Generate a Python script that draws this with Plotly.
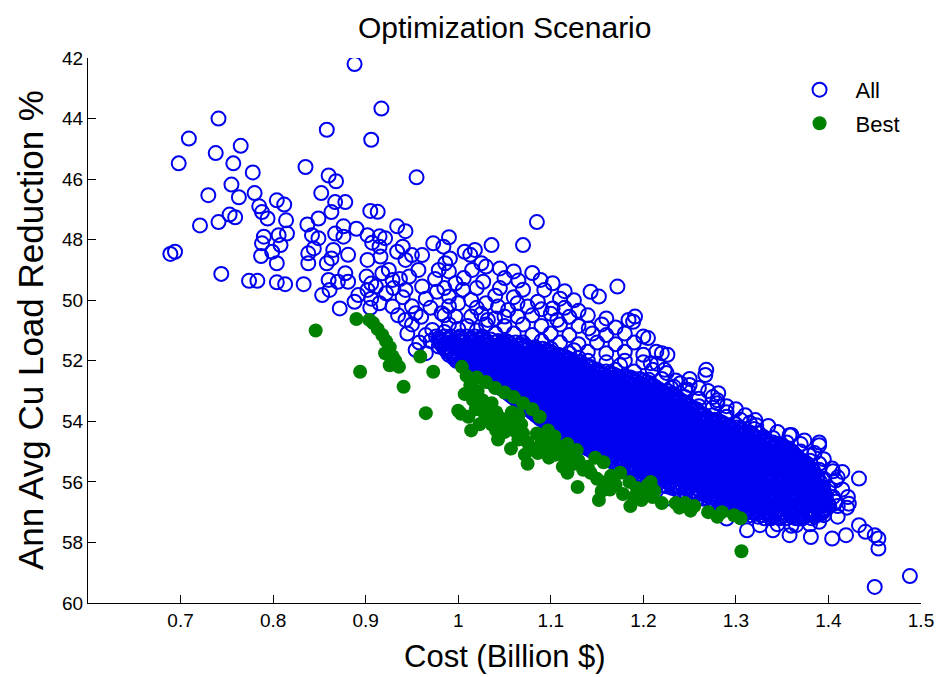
import plotly.graph_objects as go

# ---- "All" scenarios: individually scattered solutions (cost in billion $, reduction in %)
all_scattered = [
    (0.888, 42.2), (0.917, 43.67), (0.741, 44.0), (0.709, 44.66), (0.858, 44.37), (0.906, 44.7),
    (0.765, 44.9), (0.738, 45.14), (0.698, 45.48), (0.757, 45.48), (0.778, 45.78), (0.835, 45.6),
    (0.860, 45.88), (0.868, 46.07), (0.955, 45.94), (0.755, 46.18), (0.852, 46.46), (0.730, 46.53),
    (0.763, 46.6), (0.780, 46.46), (0.804, 46.7), (0.812, 46.84), (0.867, 46.76), (0.878, 46.76),
    (0.785, 46.9), (0.788, 47.09), (0.794, 47.3), (0.863, 47.09), (0.905, 47.05), (0.913, 47.08),
    (0.753, 47.17), (0.759, 47.26), (0.741, 47.42), (0.721, 47.53), (0.814, 47.36), (0.837, 47.5),
    (0.849, 47.3), (0.876, 47.56), (0.890, 47.64), (1.085, 47.42), (0.934, 47.56), (0.943, 47.72),
    (0.790, 47.9), (0.806, 47.85), (0.815, 47.8), (0.842, 47.85), (0.849, 47.95), (0.867, 47.8),
    (0.876, 47.9), (0.902, 47.85), (0.915, 47.89), (0.921, 47.95), (0.990, 47.92),
    (0.694, 48.4), (0.689, 48.47), (0.744, 49.13), (0.774, 49.36), (0.783, 49.36), (0.804, 49.41),
    (0.813, 49.47), (0.833, 49.47), (0.787, 48.54), (0.804, 48.78), (0.799, 48.4), (0.808, 48.18),
    (0.788, 48.12), (0.838, 48.45), (0.838, 48.78), (0.844, 48.29), (0.858, 48.78), (0.863, 48.62),
    (0.865, 48.34), (0.881, 48.5), (0.853, 49.83), (0.861, 49.66), (0.872, 50.27), (0.860, 49.33),
    (0.870, 49.39), (0.881, 49.39), (0.878, 49.11), (0.888, 50.05), (0.892, 49.83), (0.902, 49.66),
    (0.901, 49.22), (0.902, 48.67), (0.906, 49.45), (0.906, 49.95), (0.907, 48.1),
    (1.070, 48.18), (1.089, 49.33), (1.102, 49.44), (1.093, 49.66), (1.143, 49.72), (1.152, 49.88),
    (1.172, 49.55), (1.191, 50.54), (1.189, 50.71), (1.184, 50.65), (1.141, 50.93), (1.050, 49.27),
    (1.027, 49.39), (1.030, 48.89), (1.025, 48.78), (1.036, 48.18), (1.006, 49.27), (0.997, 49.44),
    (1.013, 48.5), (1.007, 48.4), (1.018, 48.34), (0.991, 48.62), (0.986, 48.78), (0.979, 49.0),
    (0.973, 48.12), (0.984, 48.23), (0.961, 48.51), (0.950, 48.51), (0.943, 48.67), (0.940, 48.23),
    (0.934, 48.4), (0.916, 48.56), (0.915, 48.23), (0.957, 49.0), (0.947, 49.22), (0.961, 49.55),
    (0.943, 49.66), (0.929, 49.33), (0.918, 49.11), (0.911, 49.55), (0.922, 49.77),
    (0.977, 49.72), (0.990, 49.88), (1.000, 50.1), (1.014, 49.99), (1.030, 50.1), (1.043, 50.21),
    (1.054, 50.32), (1.064, 50.1), (1.075, 50.21), (1.086, 50.05), (1.102, 50.27), (1.107, 50.65),
    (1.064, 50.54), (1.050, 50.54), (1.032, 50.65), (1.014, 50.54), (0.997, 50.54), (0.982, 50.43),
    (0.972, 50.98), (0.954, 50.43), (0.943, 50.65), (0.929, 50.21), (0.915, 50.1), (0.954, 51.64),
    (0.979, 51.53),
    (0.925, 49.0), (0.99, 49.05), (1.015, 49.0), (1.045, 48.95), (1.06, 49.05),
    (0.937, 49.3), (0.975, 49.3), (1.065, 49.35), (1.08, 49.1),
    (0.93, 49.6), (0.985, 49.6), (1.005, 49.65), (1.02, 49.6), (1.045, 49.6), (1.07, 49.65), (1.115, 49.7),
    (0.94, 49.9), (0.965, 49.95), (1.04, 49.85), (1.06, 49.9), (1.11, 49.95), (1.125, 50.0),
    (0.905, 50.25), (0.95, 50.2), (0.97, 50.25), (0.99, 50.2), (1.02, 50.25), (1.09, 50.3), (1.115, 50.25),
    (1.13, 50.35), (0.935, 50.5), (0.96, 50.55), (0.985, 50.5), (1.025, 50.45), (1.04, 50.6), (1.08, 50.5),
    (1.1, 50.45), (1.12, 50.55), (1.14, 50.5), (1.16, 50.6),
    (0.95, 50.8), (0.99, 50.8), (1.01, 50.85), (1.03, 50.8), (1.05, 50.85), (1.07, 50.8), (1.09, 50.85),
    (1.11, 50.8), (1.13, 50.85), (1.155, 50.8), (1.17, 50.9), (1.0, 50.95), (1.02, 51.0),
    (0.945, 51.1), (0.965, 51.15), (0.985, 51.05), (1.04, 51.1), (1.06, 51.1), (1.08, 51.15), (1.1, 51.1),
    (1.12, 51.15), (1.145, 51.1), (1.16, 51.15), (1.18, 51.1), (1.2, 51.2),
    (0.958, 51.4), (0.97, 51.35), (1.07, 51.4), (1.09, 51.35), (1.11, 51.4), (1.13, 51.45), (1.15, 51.4),
    (1.17, 51.45), (1.19, 51.4), (1.10, 51.6), (1.125, 51.65),
    (0.965, 51.75), (1.12, 51.75), (1.14, 51.7), (1.16, 51.75), (1.18, 51.7), (1.2, 51.8), (1.22, 51.75),
    (1.13, 51.9), (1.14, 52.0), (1.16, 52.05), (1.18, 52.0), (1.2, 52.05), (1.215, 52.1),
    (1.17, 52.3), (1.175, 52.15), (1.19, 52.35), (1.21, 52.3), (1.225, 52.4),
    (1.22, 52.6), (1.235, 52.65), (1.25, 52.6), (1.23, 52.9), (1.245, 52.95), (1.26, 52.9), (1.25, 52.8),
    (1.245, 53.2), (1.26, 53.25), (1.275, 53.2), (1.27, 53.0), (1.28, 53.3),
    (1.26, 53.5), (1.275, 53.55), (1.29, 53.5), (1.3, 53.6), (1.29, 53.7), (1.305, 53.95),
    (1.275, 53.8), (1.29, 53.85), (1.31, 53.8), (1.3, 54.1), (1.315, 54.05), (1.335, 54.15), (1.32, 54.25),
    (1.325, 54.4), (1.345, 54.35), (1.36, 54.45), (1.34, 54.55), (1.355, 54.7), (1.37, 54.75), (1.39, 54.7),
    (1.35, 54.85), (1.365, 55.2),
    (1.37, 55.0), (1.385, 55.05), (1.38, 55.3), (1.395, 55.25), (1.39, 55.6), (1.405, 55.65),
    (1.395, 55.9), (1.41, 55.85), (1.4, 56.2), (1.415, 56.25), (1.405, 56.5), (1.41, 56.8), (1.42, 56.85),
    (1.375, 57.1), (1.395, 57.1), (1.41, 57.15), (1.345, 57.4), (1.36, 57.45), (1.38, 57.4),
    (1.205, 51.25), (1.214, 51.7), (1.226, 51.8), (1.208, 52.08), (1.223, 52.3), (1.206, 52.63),
    (1.268, 52.3), (1.267, 52.47), (1.281, 53.07), (1.280, 53.4), (1.321, 53.96), (1.240, 52.74),
    (1.248, 52.96), (1.233, 52.86), (1.258, 53.62),
    (1.322, 54.13), (1.330, 54.52), (1.358, 54.46), (1.374, 54.63), (1.390, 54.79), (1.379, 55.12),
    (1.390, 55.4), (1.404, 55.56), (1.415, 55.67), (1.433, 55.89), (1.408, 55.95), (1.421, 56.5),
    (1.422, 56.72), (1.408, 56.66), (1.396, 56.44), (1.433, 57.43), (1.419, 57.76), (1.404, 57.87),
    (1.381, 57.82), (1.358, 57.76), (1.340, 57.6), (1.312, 57.6), (1.450, 57.76), (1.454, 58.2),
    (1.440, 57.65), (1.454, 57.87), (1.488, 59.11), (1.450, 59.47), (1.369, 57.21), (1.390, 57.32),
    (1.365, 57.43), (1.326, 57.43), (1.290, 57.21), (1.226, 56.55), (1.265, 56.55),
]

# ---- "All" scenarios: the crowded band, one row of costs per reduction level
all_band_rows = [
    (51.2, [0.976, 0.985, 0.992, 1.002, 1.009, 1.018, 1.026]),
    (51.25, [0.979, 0.990, 1.001, 1.014, 1.026]),
    (51.3, [0.980, 0.991, 1.004, 1.013, 1.025, 1.035]),
    (51.35, [0.982, 0.995, 1.007, 1.018, 1.031, 1.043, 1.052]),
    (51.4, [0.980, 0.990, 0.997, 1.005, 1.015, 1.022, 1.030, 1.040, 1.047, 1.054, 1.062]),
    (51.45, [0.985, 0.996, 1.010, 1.021, 1.033, 1.046, 1.057, 1.067]),
    (51.5, [0.983, 0.996, 1.006, 1.018, 1.029, 1.039, 1.051, 1.063, 1.073]),
    (51.55, [0.986, 1.000, 1.011, 1.024, 1.035, 1.048, 1.060, 1.071, 1.083]),
    (51.6, [0.985, 0.992, 1.001, 1.010, 1.016, 1.026, 1.033, 1.043, 1.050, 1.058, 1.068, 1.075, 1.082, 1.091]),
    (51.65, [0.989, 1.001, 1.014, 1.026, 1.037, 1.050, 1.062, 1.073, 1.086, 1.096]),
    (51.7, [0.988, 0.999, 1.010, 1.022, 1.032, 1.045, 1.055, 1.066, 1.078, 1.088, 1.099]),
    (51.75, [0.993, 1.004, 1.017, 1.029, 1.040, 1.053, 1.065, 1.076, 1.089, 1.101]),
    (51.8, [0.990, 1.000, 1.006, 1.016, 1.023, 1.033, 1.040, 1.048, 1.058, 1.064, 1.074, 1.081, 1.091, 1.098, 1.108]),
    (51.85, [0.996, 1.008, 1.019, 1.032, 1.044, 1.055, 1.068, 1.080, 1.091, 1.104, 1.114]),
    (51.9, [0.995, 1.007, 1.017, 1.029, 1.039, 1.050, 1.062, 1.074, 1.084, 1.096, 1.106, 1.117]),
    (51.95, [0.999, 1.011, 1.024, 1.035, 1.047, 1.060, 1.071, 1.083, 1.096, 1.107, 1.120]),
    (52.0, [0.998, 1.005, 1.015, 1.022, 1.031, 1.040, 1.047, 1.057, 1.063, 1.073, 1.080, 1.090, 1.097, 1.107,
            1.114, 1.124]),
    (52.05, [1.003, 1.014, 1.027, 1.039, 1.050, 1.063, 1.075, 1.086, 1.099, 1.111, 1.122, 1.131]),
    (52.1, [1.005, 1.017, 1.027, 1.039, 1.050, 1.060, 1.072, 1.084, 1.094, 1.106, 1.117, 1.128]),
    (52.15, [1.008, 1.021, 1.033, 1.044, 1.057, 1.069, 1.080, 1.093, 1.105, 1.116, 1.129, 1.138]),
    (52.2, [1.010, 1.019, 1.026, 1.036, 1.043, 1.051, 1.061, 1.068, 1.076, 1.086, 1.093, 1.101, 1.111, 1.118,
            1.128, 1.134, 1.142]),
    (52.25, [1.014, 1.026, 1.039, 1.050, 1.062, 1.075, 1.086, 1.098, 1.111, 1.122, 1.134, 1.145]),
    (52.3, [1.016, 1.028, 1.038, 1.050, 1.061, 1.071, 1.083, 1.095, 1.105, 1.117, 1.128, 1.138, 1.150]),
    (52.35, [1.019, 1.032, 1.043, 1.055, 1.068, 1.079, 1.091, 1.104, 1.115, 1.127, 1.140, 1.151, 1.160]),
    (52.4, [1.021, 1.028, 1.038, 1.045, 1.055, 1.062, 1.071, 1.080, 1.087, 1.097, 1.104, 1.112, 1.122, 1.129,
            1.137, 1.147, 1.154, 1.164]),
    (52.45, [1.024, 1.036, 1.049, 1.060, 1.072, 1.085, 1.096, 1.108, 1.121, 1.132, 1.144, 1.157, 1.168]),
    (52.5, [1.026, 1.038, 1.048, 1.060, 1.071, 1.081, 1.093, 1.105, 1.115, 1.127, 1.138, 1.148, 1.160, 1.171,
            1.180]),
    (52.55, [1.029, 1.041, 1.054, 1.065, 1.077, 1.090, 1.101, 1.113, 1.126, 1.137, 1.149, 1.162, 1.173, 1.186]),
    (52.6, [1.031, 1.040, 1.047, 1.057, 1.064, 1.072, 1.082, 1.089, 1.097, 1.107, 1.114, 1.124, 1.131, 1.140,
            1.148, 1.155, 1.165, 1.172, 1.182, 1.189, 1.196]),
    (52.65, [1.034, 1.047, 1.058, 1.070, 1.083, 1.094, 1.106, 1.119, 1.130, 1.142, 1.155, 1.166, 1.178, 1.191,
             1.200]),
    (52.7, [1.036, 1.048, 1.058, 1.070, 1.081, 1.091, 1.103, 1.115, 1.125, 1.137, 1.148, 1.158, 1.170, 1.182,
            1.192, 1.203]),
    (52.75, [1.039, 1.051, 1.064, 1.075, 1.087, 1.100, 1.111, 1.123, 1.136, 1.147, 1.159, 1.172, 1.183, 1.195,
             1.206]),
    (52.8, [1.041, 1.049, 1.059, 1.066, 1.074, 1.084, 1.091, 1.101, 1.108, 1.116, 1.126, 1.133, 1.142, 1.150,
            1.157, 1.167, 1.174, 1.184, 1.191, 1.200, 1.209]),
    (52.85, [1.044, 1.056, 1.068, 1.081, 1.092, 1.104, 1.117, 1.128, 1.140, 1.153, 1.164, 1.176, 1.189, 1.200,
             1.212]),
    (52.9, [1.046, 1.058, 1.068, 1.080, 1.091, 1.101, 1.113, 1.125, 1.136, 1.147, 1.158, 1.168, 1.180, 1.192,
            1.203, 1.214]),
    (52.95, [1.049, 1.061, 1.073, 1.086, 1.097, 1.109, 1.122, 1.133, 1.145, 1.158, 1.169, 1.181, 1.194, 1.205,
             1.217]),
    (53.0, [1.051, 1.060, 1.067, 1.077, 1.084, 1.092, 1.102, 1.109, 1.119, 1.126, 1.134, 1.144, 1.151, 1.160,
            1.168, 1.176, 1.185, 1.192, 1.202, 1.209, 1.219, 1.226]),
    (53.05, [1.053, 1.066, 1.078, 1.089, 1.102, 1.114, 1.125, 1.138, 1.150, 1.161, 1.174, 1.186, 1.197, 1.210,
             1.222]),
    (53.1, [1.055, 1.067, 1.077, 1.089, 1.100, 1.110, 1.122, 1.134, 1.144, 1.156, 1.167, 1.177, 1.189, 1.201,
            1.212, 1.223, 1.230]),
    (53.15, [1.057, 1.070, 1.082, 1.093, 1.106, 1.118, 1.129, 1.142, 1.154, 1.165, 1.178, 1.190, 1.201, 1.214,
             1.226, 1.233]),
    (53.2, [1.059, 1.066, 1.076, 1.083, 1.093, 1.100, 1.110, 1.117, 1.125, 1.135, 1.142, 1.151, 1.159, 1.168,
            1.175, 1.185, 1.192, 1.201, 1.209, 1.218, 1.226, 1.235]),
    (53.25, [1.062, 1.074, 1.086, 1.099, 1.110, 1.122, 1.135, 1.146, 1.158, 1.171, 1.182, 1.194, 1.207, 1.218,
             1.230, 1.238]),
    (53.3, [1.063, 1.075, 1.085, 1.097, 1.108, 1.118, 1.130, 1.142, 1.152, 1.164, 1.175, 1.185, 1.197, 1.209,
            1.220, 1.231, 1.240]),
    (53.35, [1.066, 1.078, 1.090, 1.103, 1.114, 1.126, 1.139, 1.150, 1.162, 1.175, 1.186, 1.198, 1.211, 1.222,
             1.234, 1.243]),
    (53.4, [1.067, 1.077, 1.084, 1.093, 1.101, 1.110, 1.117, 1.127, 1.134, 1.143, 1.151, 1.160, 1.167, 1.177,
            1.184, 1.193, 1.201, 1.210, 1.217, 1.227, 1.234, 1.244]),
    (53.45, [1.070, 1.082, 1.095, 1.106, 1.118, 1.131, 1.142, 1.154, 1.167, 1.178, 1.190, 1.203, 1.214, 1.226,
             1.239, 1.248]),
    (53.5, [1.071, 1.083, 1.093, 1.105, 1.116, 1.126, 1.138, 1.150, 1.160, 1.172, 1.183, 1.193, 1.205, 1.217,
            1.228, 1.239, 1.250]),
    (53.55, [1.074, 1.086, 1.099, 1.110, 1.122, 1.135, 1.146, 1.158, 1.171, 1.182, 1.194, 1.207, 1.218, 1.230,
             1.243, 1.253]),
    (53.6, [1.076, 1.083, 1.093, 1.100, 1.110, 1.118, 1.127, 1.134, 1.144, 1.151, 1.160, 1.168, 1.177, 1.184,
            1.194, 1.201, 1.210, 1.218, 1.227, 1.234, 1.244, 1.251, 1.257]),
    (53.65, [1.079, 1.091, 1.103, 1.115, 1.127, 1.139, 1.151, 1.163, 1.175, 1.187, 1.199, 1.211, 1.223, 1.235,
             1.247, 1.257]),
    (53.7, [1.080, 1.092, 1.102, 1.114, 1.125, 1.135, 1.147, 1.159, 1.169, 1.181, 1.192, 1.202, 1.214, 1.226,
            1.237, 1.248, 1.259]),
    (53.75, [1.083, 1.096, 1.107, 1.119, 1.132, 1.143, 1.155, 1.168, 1.179, 1.191, 1.204, 1.215, 1.227, 1.240,
             1.251, 1.262]),
    (53.8, [1.084, 1.094, 1.101, 1.110, 1.118, 1.127, 1.135, 1.144, 1.151, 1.161, 1.168, 1.177, 1.185, 1.194,
            1.201, 1.211, 1.218, 1.227, 1.235, 1.244, 1.251, 1.260, 1.266]),
    (53.85, [1.087, 1.099, 1.112, 1.123, 1.135, 1.148, 1.159, 1.171, 1.184, 1.195, 1.207, 1.220, 1.231, 1.243,
             1.256, 1.268]),
    (53.9, [1.088, 1.100, 1.110, 1.122, 1.133, 1.143, 1.155, 1.167, 1.178, 1.189, 1.200, 1.210, 1.222, 1.234,
            1.245, 1.256, 1.267]),
    (53.95, [1.091, 1.103, 1.116, 1.127, 1.139, 1.152, 1.163, 1.175, 1.188, 1.199, 1.211, 1.224, 1.235, 1.247,
             1.260, 1.271, 1.277]),
    (54.0, [1.093, 1.100, 1.110, 1.118, 1.127, 1.134, 1.144, 1.151, 1.161, 1.168, 1.177, 1.184, 1.194, 1.201,
            1.211, 1.218, 1.227, 1.234, 1.244, 1.251, 1.261, 1.268, 1.277, 1.282]),
    (54.05, [1.096, 1.108, 1.121, 1.132, 1.144, 1.157, 1.168, 1.180, 1.193, 1.204, 1.216, 1.229, 1.240, 1.252,
             1.265, 1.276, 1.285]),
    (54.1, [1.097, 1.109, 1.119, 1.131, 1.142, 1.152, 1.164, 1.176, 1.187, 1.198, 1.209, 1.219, 1.231, 1.243,
            1.254, 1.265, 1.276, 1.288]),
    (54.15, [1.100, 1.112, 1.125, 1.136, 1.148, 1.161, 1.172, 1.184, 1.197, 1.208, 1.220, 1.233, 1.244, 1.256,
             1.269, 1.280, 1.292]),
    (54.2, [1.101, 1.111, 1.118, 1.127, 1.134, 1.144, 1.152, 1.160, 1.168, 1.177, 1.185, 1.194, 1.202, 1.210,
            1.218, 1.227, 1.235, 1.244, 1.252, 1.260, 1.268, 1.277, 1.285, 1.294, 1.301]),
    (54.25, [1.104, 1.117, 1.128, 1.140, 1.153, 1.164, 1.176, 1.189, 1.200, 1.212, 1.225, 1.236, 1.248, 1.261,
             1.272, 1.284, 1.297, 1.304]),
    (54.3, [1.106, 1.118, 1.128, 1.140, 1.151, 1.161, 1.173, 1.185, 1.195, 1.207, 1.218, 1.228, 1.240, 1.252,
            1.263, 1.274, 1.285, 1.296, 1.307]),
    (54.35, [1.109, 1.121, 1.134, 1.145, 1.157, 1.170, 1.181, 1.193, 1.206, 1.217, 1.229, 1.242, 1.253, 1.265,
             1.278, 1.289, 1.301, 1.311]),
    (54.4, [1.111, 1.118, 1.128, 1.135, 1.145, 1.152, 1.161, 1.168, 1.178, 1.185, 1.195, 1.202, 1.211, 1.218,
            1.228, 1.235, 1.245, 1.252, 1.261, 1.268, 1.278, 1.285, 1.295, 1.302, 1.311, 1.317]),
    (54.45, [1.115, 1.127, 1.140, 1.151, 1.163, 1.176, 1.187, 1.199, 1.212, 1.223, 1.235, 1.248, 1.259, 1.271,
             1.284, 1.295, 1.307, 1.318]),
    (54.5, [1.117, 1.129, 1.139, 1.151, 1.162, 1.172, 1.184, 1.196, 1.206, 1.218, 1.229, 1.239, 1.251, 1.263,
            1.274, 1.285, 1.296, 1.307, 1.318]),
    (54.55, [1.121, 1.133, 1.146, 1.157, 1.169, 1.182, 1.193, 1.205, 1.218, 1.229, 1.241, 1.254, 1.265, 1.277,
             1.290, 1.301, 1.313, 1.325]),
    (54.6, [1.123, 1.132, 1.139, 1.149, 1.156, 1.165, 1.172, 1.182, 1.189, 1.199, 1.206, 1.215, 1.222, 1.232,
            1.239, 1.249, 1.256, 1.265, 1.272, 1.282, 1.289, 1.299, 1.306, 1.315, 1.322, 1.331]),
    (54.65, [1.126, 1.138, 1.151, 1.162, 1.174, 1.187, 1.198, 1.210, 1.223, 1.234, 1.246, 1.259, 1.270, 1.282,
             1.295, 1.306, 1.318, 1.331]),
    (54.7, [1.128, 1.140, 1.150, 1.162, 1.173, 1.183, 1.195, 1.207, 1.218, 1.229, 1.240, 1.250, 1.262, 1.274,
            1.285, 1.296, 1.307, 1.318, 1.330, 1.340]),
    (54.75, [1.132, 1.144, 1.157, 1.168, 1.180, 1.193, 1.204, 1.216, 1.229, 1.240, 1.252, 1.265, 1.276, 1.288,
             1.301, 1.312, 1.324, 1.337, 1.345]),
    (54.8, [1.134, 1.141, 1.151, 1.158, 1.168, 1.175, 1.184, 1.191, 1.201, 1.208, 1.218, 1.225, 1.234, 1.241,
            1.251, 1.258, 1.268, 1.275, 1.284, 1.291, 1.301, 1.308, 1.318, 1.325, 1.334, 1.341, 1.350]),
    (54.85, [1.137, 1.149, 1.162, 1.173, 1.185, 1.198, 1.209, 1.221, 1.234, 1.245, 1.257, 1.270, 1.281, 1.293,
             1.306, 1.317, 1.329, 1.342, 1.352]),
    (54.9, [1.140, 1.152, 1.162, 1.174, 1.185, 1.195, 1.207, 1.219, 1.229, 1.241, 1.252, 1.262, 1.274, 1.286,
            1.297, 1.308, 1.319, 1.330, 1.341, 1.353]),
    (54.95, [1.143, 1.155, 1.168, 1.179, 1.191, 1.204, 1.215, 1.227, 1.240, 1.251, 1.263, 1.276, 1.287, 1.299,
             1.312, 1.323, 1.335, 1.348, 1.357]),
    (55.0, [1.146, 1.155, 1.162, 1.172, 1.179, 1.188, 1.195, 1.205, 1.212, 1.222, 1.229, 1.238, 1.245, 1.255,
            1.262, 1.272, 1.279, 1.288, 1.295, 1.305, 1.312, 1.322, 1.329, 1.338, 1.345, 1.354, 1.361]),
    (55.05, [1.149, 1.161, 1.174, 1.186, 1.197, 1.210, 1.222, 1.233, 1.246, 1.258, 1.269, 1.282, 1.294, 1.305,
             1.318, 1.330, 1.341, 1.353, 1.362]),
    (55.1, [1.152, 1.164, 1.174, 1.186, 1.197, 1.207, 1.219, 1.231, 1.241, 1.253, 1.264, 1.274, 1.286, 1.298,
            1.309, 1.320, 1.331, 1.342, 1.353, 1.363]),
    (55.15, [1.155, 1.168, 1.180, 1.191, 1.204, 1.216, 1.227, 1.240, 1.252, 1.263, 1.276, 1.288, 1.299, 1.312,
             1.324, 1.335, 1.348, 1.360, 1.366]),
    (55.2, [1.158, 1.165, 1.175, 1.182, 1.192, 1.199, 1.208, 1.215, 1.225, 1.232, 1.242, 1.249, 1.258, 1.265,
            1.275, 1.282, 1.292, 1.299, 1.308, 1.315, 1.325, 1.332, 1.342, 1.349, 1.358, 1.367]),
    (55.25, [1.161, 1.173, 1.186, 1.197, 1.209, 1.222, 1.233, 1.245, 1.258, 1.269, 1.281, 1.294, 1.305, 1.317,
             1.330, 1.341, 1.353, 1.366]),
    (55.3, [1.164, 1.176, 1.186, 1.198, 1.209, 1.219, 1.231, 1.243, 1.253, 1.265, 1.276, 1.286, 1.298, 1.310,
            1.321, 1.332, 1.343, 1.354, 1.365, 1.372]),
    (55.35, [1.168, 1.180, 1.192, 1.205, 1.216, 1.228, 1.241, 1.252, 1.264, 1.277, 1.288, 1.300, 1.313, 1.324,
             1.336, 1.349, 1.360, 1.372]),
    (55.4, [1.171, 1.180, 1.187, 1.197, 1.204, 1.213, 1.220, 1.230, 1.237, 1.247, 1.254, 1.263, 1.270, 1.280,
            1.287, 1.297, 1.304, 1.313, 1.320, 1.330, 1.337, 1.347, 1.354, 1.363, 1.370, 1.377]),
    (55.45, [1.174, 1.187, 1.198, 1.210, 1.223, 1.234, 1.246, 1.259, 1.270, 1.282, 1.295, 1.306, 1.318, 1.331,
             1.342, 1.354, 1.367, 1.377]),
    (55.5, [1.177, 1.189, 1.199, 1.211, 1.222, 1.232, 1.244, 1.256, 1.266, 1.278, 1.289, 1.299, 1.311, 1.323,
            1.334, 1.345, 1.356, 1.367, 1.378]),
    (55.55, [1.181, 1.193, 1.205, 1.218, 1.229, 1.241, 1.254, 1.265, 1.277, 1.290, 1.301, 1.313, 1.326, 1.337,
             1.349, 1.362, 1.373, 1.381]),
    (55.6, [1.184, 1.191, 1.201, 1.208, 1.218, 1.225, 1.234, 1.241, 1.251, 1.258, 1.268, 1.275, 1.284, 1.291,
            1.301, 1.308, 1.318, 1.325, 1.334, 1.341, 1.351, 1.358, 1.368, 1.375, 1.383]),
    (55.65, [1.187, 1.199, 1.212, 1.223, 1.235, 1.248, 1.259, 1.271, 1.284, 1.295, 1.307, 1.320, 1.331, 1.343,
             1.356, 1.367, 1.379]),
    (55.7, [1.190, 1.202, 1.212, 1.224, 1.235, 1.245, 1.257, 1.269, 1.280, 1.291, 1.302, 1.312, 1.324, 1.336,
            1.347, 1.358, 1.369, 1.380]),
    (55.75, [1.194, 1.206, 1.219, 1.230, 1.242, 1.255, 1.266, 1.278, 1.291, 1.302, 1.314, 1.327, 1.338, 1.350,
             1.363, 1.374, 1.385]),
    (55.8, [1.198, 1.207, 1.214, 1.224, 1.231, 1.240, 1.247, 1.257, 1.264, 1.274, 1.281, 1.290, 1.297, 1.307,
            1.314, 1.324, 1.331, 1.340, 1.347, 1.357, 1.364, 1.374, 1.381, 1.388]),
    (55.85, [1.201, 1.213, 1.225, 1.238, 1.249, 1.261, 1.274, 1.285, 1.297, 1.310, 1.321, 1.333, 1.346, 1.357,
             1.369, 1.382, 1.388]),
    (55.9, [1.204, 1.216, 1.226, 1.238, 1.249, 1.259, 1.271, 1.283, 1.294, 1.305, 1.316, 1.326, 1.338, 1.350,
            1.361, 1.372, 1.383]),
    (55.95, [1.208, 1.220, 1.232, 1.245, 1.256, 1.268, 1.281, 1.292, 1.304, 1.317, 1.328, 1.340, 1.353, 1.364,
             1.376, 1.388]),
    (56.0, [1.211, 1.218, 1.228, 1.235, 1.245, 1.252, 1.261, 1.268, 1.278, 1.285, 1.295, 1.302, 1.311, 1.318,
            1.328, 1.335, 1.345, 1.352, 1.361, 1.368, 1.378, 1.385, 1.391]),
    (56.05, [1.216, 1.228, 1.241, 1.252, 1.264, 1.277, 1.288, 1.300, 1.313, 1.324, 1.336, 1.349, 1.360, 1.372,
             1.385]),
    (56.1, [1.220, 1.232, 1.242, 1.254, 1.265, 1.275, 1.287, 1.299, 1.310, 1.321, 1.332, 1.342, 1.354, 1.366,
            1.377, 1.388]),
    (56.15, [1.226, 1.238, 1.251, 1.262, 1.274, 1.287, 1.298, 1.310, 1.323, 1.334, 1.346, 1.359, 1.370, 1.382,
             1.392]),
    (56.2, [1.231, 1.240, 1.247, 1.257, 1.264, 1.273, 1.280, 1.290, 1.297, 1.307, 1.314, 1.323, 1.330, 1.340,
            1.347, 1.357, 1.364, 1.373, 1.380, 1.389, 1.394]),
    (56.25, [1.236, 1.248, 1.260, 1.273, 1.284, 1.296, 1.309, 1.320, 1.332, 1.345, 1.356, 1.368, 1.381, 1.392]),
    (56.3, [1.240, 1.252, 1.262, 1.274, 1.285, 1.295, 1.307, 1.319, 1.330, 1.341, 1.352, 1.362, 1.374, 1.386,
            1.395]),
    (56.35, [1.246, 1.258, 1.271, 1.282, 1.294, 1.307, 1.318, 1.330, 1.343, 1.354, 1.366, 1.379, 1.390]),
    (56.4, [1.251, 1.258, 1.268, 1.275, 1.285, 1.292, 1.301, 1.308, 1.318, 1.325, 1.335, 1.342, 1.351, 1.358,
            1.368, 1.375, 1.385, 1.393]),
    (56.45, [1.256, 1.268, 1.280, 1.293, 1.304, 1.316, 1.329, 1.340, 1.352, 1.365, 1.376, 1.388, 1.397]),
    (56.5, [1.260, 1.272, 1.282, 1.294, 1.305, 1.315, 1.327, 1.339, 1.350, 1.361, 1.372, 1.382, 1.394]),
    (56.55, [1.266, 1.278, 1.291, 1.302, 1.314, 1.327, 1.338, 1.350, 1.363, 1.374, 1.386, 1.397]),
    (56.6, [1.271, 1.280, 1.287, 1.297, 1.304, 1.313, 1.320, 1.330, 1.337, 1.347, 1.354, 1.363, 1.370, 1.380,
            1.387, 1.397]),
    (56.65, [1.275, 1.287, 1.299, 1.312, 1.323, 1.335, 1.348, 1.359, 1.371, 1.384, 1.395]),
    (56.7, [1.278, 1.290, 1.300, 1.312, 1.323, 1.333, 1.345, 1.357, 1.368, 1.379, 1.390, 1.399]),
    (56.75, [1.283, 1.295, 1.308, 1.319, 1.331, 1.344, 1.355, 1.367, 1.380, 1.391, 1.400]),
    (56.8, [1.286, 1.293, 1.303, 1.310, 1.320, 1.327, 1.336, 1.343, 1.353, 1.360, 1.370, 1.377, 1.386, 1.393, 1.401]),
    (56.85, [1.290, 1.302, 1.315, 1.326, 1.338, 1.351, 1.362, 1.374, 1.387, 1.398]),
    (56.9, [1.293, 1.305, 1.315, 1.327, 1.338, 1.348, 1.360, 1.372, 1.383, 1.394]),
    (56.95, [1.298, 1.310, 1.322, 1.335, 1.346, 1.358, 1.371, 1.382, 1.394]),
    (57.0, [1.301, 1.310, 1.317, 1.327, 1.334, 1.343, 1.350, 1.360, 1.367, 1.377, 1.384, 1.394]),
    (57.05, [1.310, 1.323, 1.334, 1.346, 1.359, 1.370, 1.382, 1.392]),
    (57.1, [1.316, 1.328, 1.338, 1.350, 1.361, 1.371, 1.383]),
    (57.15, [1.324, 1.336, 1.349, 1.360, 1.372, 1.385]),
    (57.2, [1.331, 1.338, 1.348, 1.355, 1.365, 1.372, 1.382]),
]

# ---- "Best" scenarios
best_points = [
    (0.846, 51.0), (0.890, 50.62), (0.904, 50.65), (0.894, 52.36),
    (0.908, 50.75), (0.913, 50.95), (0.918, 51.15), (0.922, 51.35), (0.926, 51.55), (0.921, 51.75),
    (0.929, 51.85), (0.932, 52.0), (0.936, 52.2), (0.926, 52.15),
    (0.959, 51.86), (0.973, 52.36), (0.941, 52.86), (0.965, 53.73), (1.000, 53.65), (1.003, 53.75),
    (1.004, 52.2), (1.009, 52.5), (1.013, 52.8), (1.007, 53.1), (1.016, 53.3), (1.021, 53.0),
    (1.019, 53.6), (1.014, 54.3), (1.023, 54.1), (1.011, 53.85),
    (1.02, 52.55), (1.03, 52.7), (1.04, 52.9), (1.05, 53.05), (1.06, 53.2), (1.07, 53.4), (1.08, 53.6),
    (1.088, 53.85),
    (1.026, 53.3), (1.031, 53.55), (1.036, 53.4), (1.029, 53.8), (1.041, 53.7), (1.046, 53.9),
    (1.036, 54.1), (1.043, 54.6), (1.05, 54.35), (1.041, 54.3), (1.049, 54.1),
    (1.055, 54.0), (1.06, 54.3), (1.057, 54.9), (1.065, 54.6), (1.07, 54.4), (1.068, 54.1),
    (1.075, 54.7), (1.075, 55.4), (1.08, 54.9), (1.072, 55.1), (1.058, 53.7), (1.065, 53.8),
    (1.085, 54.4), (1.086, 55.05), (1.09, 54.7), (1.095, 54.8), (1.1, 54.9), (1.098, 55.2),
    (1.105, 55.1), (1.11, 54.85), (1.092, 54.5), (1.097, 54.3), (1.104, 54.5),
    (1.113, 55.5), (1.115, 55.2), (1.12, 55.1), (1.125, 55.4), (1.13, 55.3), (1.135, 55.6),
    (1.129, 56.17), (1.14, 55.5), (1.118, 55.7), (1.118, 54.75), (1.128, 54.95),
    (1.143, 55.7), (1.15, 55.9), (1.152, 56.6), (1.157, 55.35), (1.16, 56.0), (1.164, 56.25),
    (1.155, 56.3), (1.165, 55.8), (1.17, 56.1), (1.148, 55.2),
    (1.175, 55.7), (1.178, 56.4), (1.186, 56.8), (1.19, 56.5), (1.193, 56.2), (1.2, 56.3),
    (1.198, 56.6), (1.205, 56.1), (1.208, 56.0), (1.21, 56.5), (1.212, 56.3), (1.185, 56.0),
    (1.22, 56.7), (1.235, 56.7), (1.239, 56.85), (1.245, 56.7), (1.251, 56.95), (1.255, 56.8),
    (1.27, 57.0), (1.28, 57.15), (1.285, 57.0), (1.298, 57.1), (1.305, 57.2), (1.306, 58.29),
]

x_tick_values = [0.7, 0.8, 0.9, 1.0, 1.1, 1.2, 1.3, 1.4, 1.5]
x_tick_labels = ["0.7", "0.8", "0.9", "1", "1.1", "1.2", "1.3", "1.4", "1.5"]
y_tick_values = [42, 44, 46, 48, 50, 52, 54, 56, 58, 60]

all_cost = [c for c, _ in all_scattered] + [c for _, row in all_band_rows for c in row]
all_reduction = [r for _, r in all_scattered] + [r for r, row in all_band_rows for _ in row]
best_cost = [c for c, _ in best_points]
best_reduction = [r for _, r in best_points]

FONT = "Liberation Sans, Arial, sans-serif"

fig = go.Figure()
fig.add_trace(go.Scatter(
    x=all_cost, y=all_reduction, mode="markers", name="All", legendgroup="all",
    marker=dict(symbol="circle-open", size=14, color="rgb(0,0,240)", line=dict(width=2.0)),
))
fig.add_trace(go.Scatter(
    x=best_cost, y=best_reduction, mode="markers", name="Best", legendgroup="best",
    marker=dict(symbol="circle", size=14, color="rgb(0,128,0)", line=dict(width=0)),
))

axis_common = dict(
    showgrid=False, zeroline=False, showline=True, linecolor="black", linewidth=1,
    ticks="inside", ticklen=8, tickcolor="black", mirror=False,
    tickfont=dict(family=FONT, size=19, color="black"),
)

fig.update_layout(
    width=946, height=677,
    margin=dict(l=88, r=17, t=58, b=74),
    paper_bgcolor="white", plot_bgcolor="white",
    showlegend=True,
    legend=dict(
        x=0.835, y=0.98, xanchor="left", yanchor="top",
        font=dict(family=FONT, size=22, color="black"),
        bgcolor="rgba(0,0,0,0)", borderwidth=0,
        traceorder="grouped", tracegroupgap=2, itemwidth=62,
    ),
    xaxis=dict(range=[0.6, 1.5], tickvals=x_tick_values, ticktext=x_tick_labels, **axis_common),
    yaxis=dict(range=[60, 42], tickvals=y_tick_values, **axis_common),
    annotations=[
        dict(text="Optimization Scenario", x=0.5, y=1, xref="paper", yref="paper",
             yanchor="bottom", yshift=12,
             showarrow=False, font=dict(family=FONT, size=30, color="black")),
        dict(text="Cost (Billion $)", x=0.5, y=0, xref="paper", yref="paper",
             yanchor="top", yshift=-34,
             showarrow=False, font=dict(family=FONT, size=31, color="black")),
        dict(text="Ann Avg Cu Load Reduction %", x=0, y=0.5, xref="paper", yref="paper",
             xanchor="right", xshift=-36,
             showarrow=False, textangle=-90, font=dict(family=FONT, size=35, color="black")),
    ],
)

fig.write_html("out.html")
